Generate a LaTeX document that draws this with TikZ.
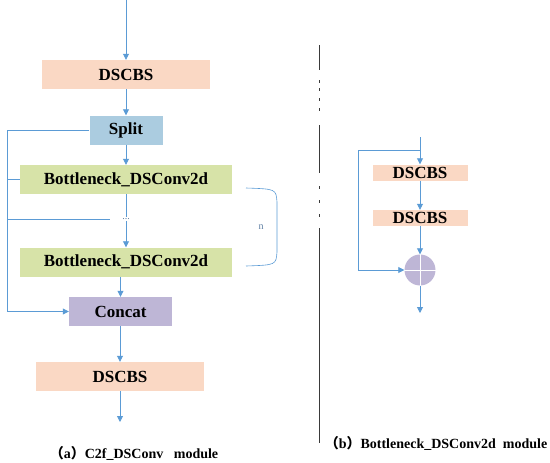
\documentclass[tikz,border=0pt]{standalone}
\usepackage{fontspec}
\setmainfont{Liberation Serif}
\newfontfamily\cjk{Noto Sans CJK SC}
\usetikzlibrary{arrows.meta,positioning,calc}
\definecolor{peach}{HTML}{FAD8C4}
\definecolor{splitblue}{HTML}{ABCCE0}
\definecolor{leaf}{HTML}{D7E3A8}
\definecolor{lilac}{HTML}{BEB6D6}
\definecolor{flowblue}{HTML}{5B9BD5}
\definecolor{muted}{HTML}{5F7FA3}
\definecolor{rule}{HTML}{3A3A3A}
\tikzset{
  block/.style={minimum height=29pt, inner sep=0pt,
                font=\fontsize{17}{20}\selectfont\bfseries},
  smallblock/.style={block, fill=peach, minimum width=95pt, minimum height=16pt},
  flow/.style={-{Triangle[length=6pt,width=6pt]}, line width=0.8pt, draw=flowblue},
  link/.style={line width=0.8pt, draw=flowblue},
  caption/.style={font=\fontsize{14}{16}\selectfont\bfseries}
}

\begin{document}
\begin{tikzpicture}[x=1pt,y=-1pt]
  \useasboundingbox (0,0) rectangle (550,463);

  % (a) C2f_DSConv
  \coordinate (inA) at (126,0);
  \node[block, fill=peach, minimum width=168pt] (dscbsA) at (126,74.5) {DSCBS};
  \node[block, fill=splitblue, minimum width=73pt] (split) at (126,130) {Split};
  \node[block, fill=leaf, minimum width=212pt] (bneckA) at (126,179.5) {Bottleneck\_DSConv2d};
  \node[font=\fontsize{10}{10}\selectfont, text=muted, inner sep=1pt] (dots) at (126,219) {...};
  \node[block, fill=leaf, minimum width=212pt] (bneckB) at (126,262) {Bottleneck\_DSConv2d};
  \node[block, fill=lilac, minimum width=103pt] (concat) at (120.5,311.5) {Concat};
  \node[block, fill=peach, minimum width=168pt] (dscbsB) at (120,376.5) {DSCBS};
  \coordinate (outA) at (120,422);
  \coordinate (rail) at (7,130);
  \coordinate (tapEnd) at (110,219);

  \draw[flow] (inA) -- (dscbsA.north);
  \draw[flow] (dscbsA.south) -- (split.north);
  \draw[flow] (split.south) -- (bneckA.north);
  \draw[link] (bneckA.south) -- (dots.north);
  \draw[flow] (dots.south) -- (bneckB.north);
  \draw[flow] (concat.north |- bneckB.south) -- (concat.north);
  \draw[flow] (concat.south) -- (dscbsB.north |- concat.south) -- (dscbsB.north);
  \draw[flow] (dscbsB.south) -- (outA);

  % shortcut rail
  \draw[flow] (split.west) -- (rail) |- (concat.west);
  \draw[link] (rail |- bneckA) -- (bneckA.west);
  \draw[link] (rail |- tapEnd) -- (tapEnd);

  % repeat brace
  \draw[draw=flowblue, line width=0.6pt]
    (246,188) .. controls (276,189) .. (277,202) -- (277,252)
    .. controls (276,265) .. (246,266);
  \node[font=\fontsize{10}{12}\selectfont, text=muted] (nrep) at (261,227) {n};

  \node[caption] (capA) at (134,453) {{\cjk （}a{\cjk ）}C2f\_DSConv\ \ \ module};

  % divider
  \draw[rule, line width=0.7pt] (319,45) -- (319,70);
  \foreach \y in {80,88,98,108}
    \draw[rule, line width=0.7pt] (319,\y) -- (319,\y+3);
  \draw[rule, line width=0.7pt] (319,125) -- (319,173);
  \foreach \y in {186,200,214}
    \draw[rule, line width=0.7pt] (319,\y) -- (319,\y+3);
  \draw[rule, line width=0.7pt] (319,228) -- (319,443);

  % (b) Bottleneck_DSConv2d
  \coordinate (inB) at (420,137);
  \coordinate (fork) at (420,150);
  \node[smallblock] (dscbsC) at (420,172.5) {DSCBS};
  \node[smallblock] (dscbsD) at (420,218) {DSCBS};
  \node[circle, fill=lilac, minimum size=31pt, inner sep=0pt] (sum) at (420,270) {};
  \draw[white, line width=0.6pt] (sum.north) -- (sum.south) (sum.west) -- (sum.east);
  \coordinate (outB) at (420,313);

  \draw[flow] (inB) -- (dscbsC.north);
  \draw[flow] (dscbsC.south) -- (dscbsD.north);
  \draw[flow] (dscbsD.south) -- (sum.north);
  \draw[flow] (sum.south) -- (outB);
  \draw[flow] (fork) -- ++(-62,0) |- (sum.west);

  \node[caption] (capB) at (436,443) {{\cjk （}b{\cjk ）}Bottleneck\_DSConv2d\ \ module};
\end{tikzpicture}
\end{document}
